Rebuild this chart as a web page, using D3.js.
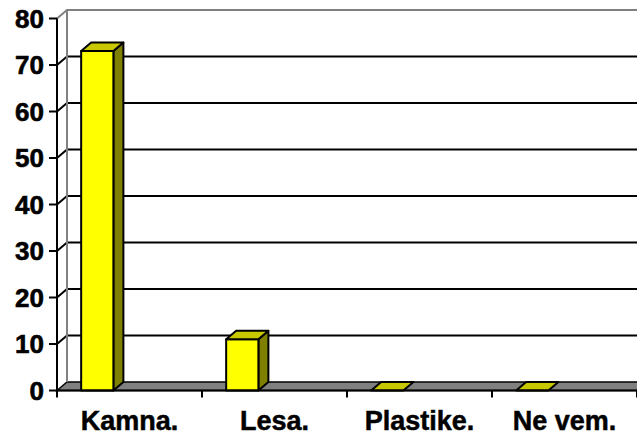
<!DOCTYPE html>
<html>
<head>
<meta charset="utf-8">
<script src="https://cdn.jsdelivr.net/npm/d3@7"></script>
<style>
  body { margin: 0; background: #fff; }
</style>
</head>
<body>
<script>
const categories = ["Kamna.", "Lesa.", "Plastike.", "Ne vem."];
const values = [73, 11, 0, 0];
const yTicks = [0, 10, 20, 30, 40, 50, 60, 70, 80];

const width = 637, height = 439;
// globina 3D efekta
const dx = 10, dy = -8.5;

const x = d3.scaleBand().domain(categories).range([57, 637]);
// excel postavi stolpec v prvo od treh rezin
const slot = d3.scaleBand().domain(d3.range(3)).range([0, x.bandwidth()]).paddingOuter(0.75);
const y = d3.scaleLinear().domain([0, 80]).range([390.5, 18.5]);

const svg = d3.select("body").append("svg")
    .attr("width", width)
    .attr("height", height);

const x0 = x.range()[0], x1 = x.range()[1];

// tla
svg.append("path")
    .attr("d", `M${x0},${y(0)}L${x0 + dx},${y(0) + dy}L${x1 + dx},${y(0) + dy}L${x1},${y(0)}Z`)
    .attr("fill", "#808080")
    .attr("stroke", "#000")
    .attr("stroke-width", 1.5);

// mreža
const grid = yTicks.filter(t => t > 0 && t < 80);
svg.append("g")
  .selectAll("path")
  .data(grid)
  .join("path")
    .attr("fill", "none")
    .attr("stroke", "#000")
    .attr("stroke-width", 2)
    .attr("d", t => `M${x0},${y(t)}L${x0 + dx},${y(t) + dy}L${x1 + dx},${y(t) + dy}`);

// rob zadnje stene
svg.append("path")
    .attr("fill", "none")
    .attr("stroke", "#808080")
    .attr("stroke-width", 2)
    .attr("d", `M${x0},${y(80)}L${x0 + dx},${y(80) + dy}L${x1 + dx},${y(80) + dy}`);
svg.append("line")
    .attr("x1", x0 + dx).attr("x2", x0 + dx)
    .attr("y1", y(80) + dy).attr("y2", y(0) + dy)
    .attr("stroke", "#808080")
    .attr("stroke-width", 2);

// stolpci
const bars = svg.append("g")
    .attr("stroke", "#000")
    .attr("stroke-width", 2)
    .attr("stroke-linejoin", "round")
  .selectAll("g")
  .data(categories.map((c, i) => ({ c, v: values[i] })))
  .join("g");

bars.each(function(d) {
  const g = d3.select(this);
  const l = x(d.c) + slot(0), r = l + slot.bandwidth();
  const t = y(d.v), b = y(0);
  if (d.v > 0) {
    g.append("path")
      .attr("fill", "#808000")
      .attr("d", `M${r},${t}L${r + dx},${t + dy}L${r + dx},${b + dy}L${r},${b}Z`);
    g.append("rect")
      .attr("fill", "#ffff00")
      .attr("x", l).attr("y", t)
      .attr("width", r - l).attr("height", b - t);
  }
  g.append("path")
    .attr("fill", "#c8c800")
    .attr("d", `M${l},${t}L${l + dx},${t + dy}L${r + dx},${t + dy}L${r},${t}Z`);
});

// osi
svg.append("line")
    .attr("x1", x0).attr("x2", x0)
    .attr("y1", y(80)).attr("y2", y(0) + 7)
    .attr("stroke", "#000").attr("stroke-width", 2);
svg.append("line")
    .attr("x1", x0).attr("x2", x1)
    .attr("y1", y(0)).attr("y2", y(0))
    .attr("stroke", "#000").attr("stroke-width", 2);

svg.append("g")
  .selectAll("line")
  .data(yTicks)
  .join("line")
    .attr("x1", x0 - 8).attr("x2", x0)
    .attr("y1", d => y(d)).attr("y2", d => y(d))
    .attr("stroke", "#000").attr("stroke-width", 2);

svg.append("g")
  .selectAll("line")
  .data(categories.map(c => x(c) + x.bandwidth()))
  .join("line")
    .attr("x1", d => d).attr("x2", d => d)
    .attr("y1", y(0)).attr("y2", y(0) + 7)
    .attr("stroke", "#000").attr("stroke-width", 2);

svg.append("g")
    .attr("font-family", "'Liberation Sans', Arial, sans-serif")
    .attr("font-weight", "bold")
    .attr("font-size", 26)
    .attr("stroke", "#000")
    .attr("stroke-width", 0.6)
    .attr("text-anchor", "end")
  .selectAll("text")
  .data(yTicks)
  .join("text")
    .attr("x", 44)
    .attr("y", d => y(d))
    .attr("dy", "0.36em")
    .text(d => d);

svg.append("g")
    .attr("font-family", "'Liberation Sans', Arial, sans-serif")
    .attr("font-weight", "bold")
    .attr("font-size", 27)
    .attr("stroke", "#000")
    .attr("stroke-width", 0.5)
    .attr("text-anchor", "middle")
  .selectAll("text")
  .data(categories)
  .join("text")
    .attr("x", d => x(d) + x.bandwidth() / 2)
    .attr("y", 430)
    .text(d => d);
</script>
</body>
</html>
